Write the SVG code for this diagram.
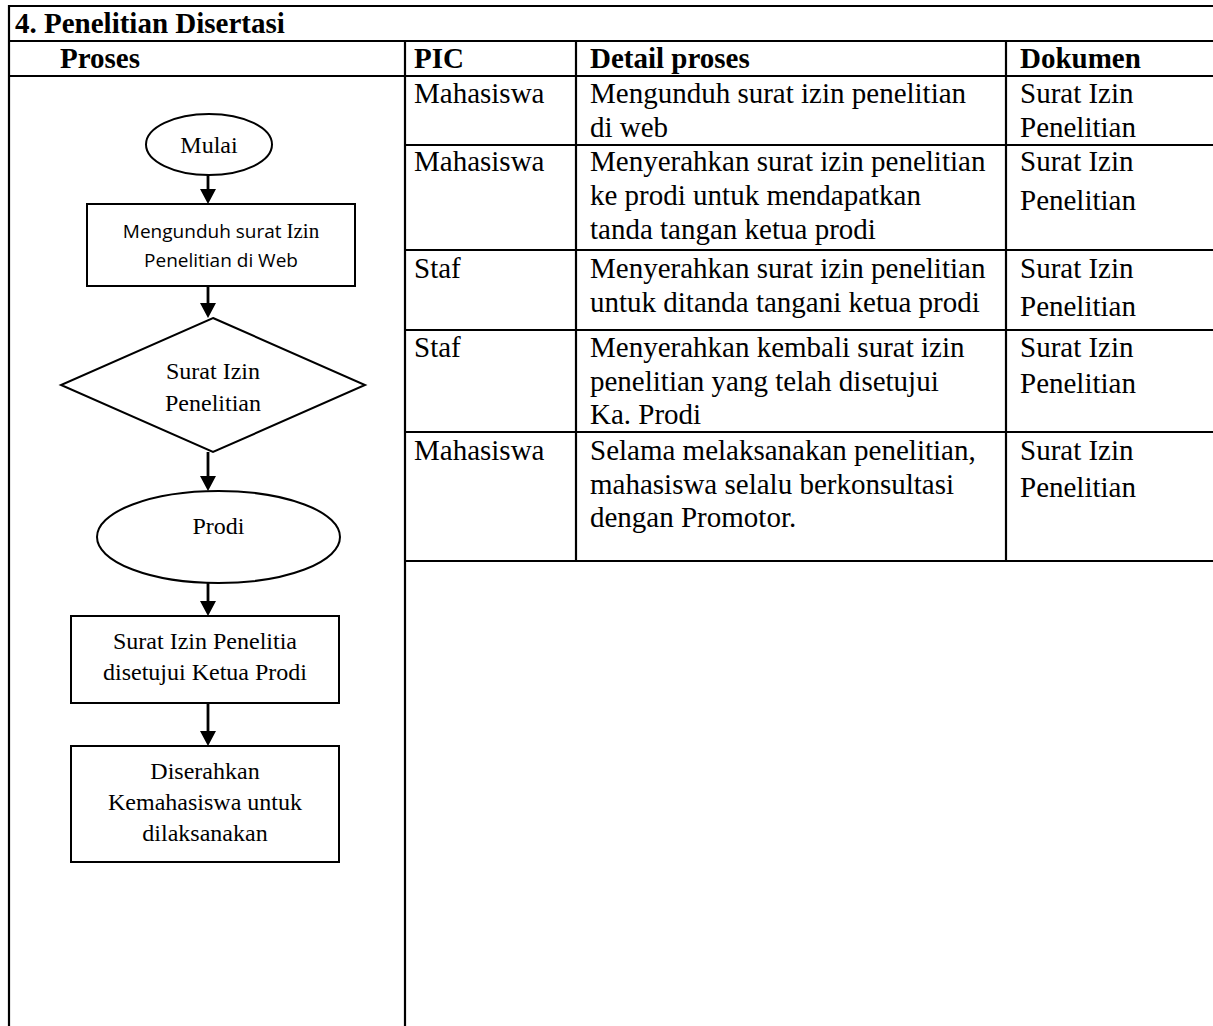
<svg xmlns="http://www.w3.org/2000/svg" width="1213" height="1026" viewBox="0 0 1213 1026">
<style>
.bg{fill:#ffffff}
.grid{stroke:#000;stroke-width:2.2;fill:none}
.t{font-family:"Liberation Serif","Times New Roman",serif;font-size:29px;fill:#000}
.b{font-weight:bold}
.shape{fill:#fff;stroke:#000;stroke-width:2}
.ft{font-family:"Liberation Serif","Times New Roman",serif;font-size:24px;fill:#000;text-anchor:middle}
.fs{font-family:"Open Sans","Liberation Sans",sans-serif;font-size:19px;fill:#000;text-anchor:middle}
.conn{stroke:#000;stroke-width:2.8;fill:none}
</style>
<defs>
<marker id="ah" markerUnits="userSpaceOnUse" markerWidth="16" markerHeight="16" refX="5" refY="8" orient="auto" viewBox="0 0 16 16">
<path d="M0,0 L15,8 L0,16 z" fill="#000"/>
</marker>
</defs>
<rect class="bg" x="0" y="0" width="1213" height="1026"/>
<g id="table">
<g class="grid">
<line x1="9" y1="6" x2="1213" y2="6"/>
<line x1="9" y1="41" x2="1213" y2="41"/>
<line x1="9" y1="76" x2="1213" y2="76"/>
<line x1="9" y1="5" x2="9" y2="1026"/>
<line x1="405" y1="41" x2="405" y2="1026"/>
<line x1="576" y1="41" x2="576" y2="561"/>
<line x1="1006" y1="41" x2="1006" y2="561"/>
<line x1="405" y1="145" x2="1213" y2="145"/>
<line x1="405" y1="250" x2="1213" y2="250"/>
<line x1="405" y1="330" x2="1213" y2="330"/>
<line x1="405" y1="432" x2="1213" y2="432"/>
<line x1="405" y1="561" x2="1213" y2="561"/>
</g>
<g>
<text class="t b" x="15" y="33">4. Penelitian Disertasi</text>
<text class="t b" x="60" y="68">Proses</text>
<text class="t b" x="414" y="68">PIC</text>
<text class="t b" x="590" y="68">Detail proses</text>
<text class="t b" x="1020" y="68">Dokumen</text>

<text class="t" x="414" y="103">Mahasiswa</text>
<text class="t" x="590" y="103">Mengunduh surat izin penelitian</text>
<text class="t" x="590" y="137">di web</text>
<text class="t" x="1020" y="103">Surat Izin</text>
<text class="t" x="1020" y="137">Penelitian</text>

<text class="t" x="414" y="171">Mahasiswa</text>
<text class="t" x="590" y="171">Menyerahkan surat izin penelitian</text>
<text class="t" x="590" y="205">ke prodi untuk mendapatkan</text>
<text class="t" x="590" y="239">tanda tangan ketua prodi</text>
<text class="t" x="1020" y="171">Surat Izin</text>
<text class="t" x="1020" y="210">Penelitian</text>

<text class="t" x="414" y="278">Staf</text>
<text class="t" x="590" y="278">Menyerahkan surat izin penelitian</text>
<text class="t" x="590" y="312">untuk ditanda tangani ketua prodi</text>
<text class="t" x="1020" y="278">Surat Izin</text>
<text class="t" x="1020" y="316">Penelitian</text>

<text class="t" x="414" y="357">Staf</text>
<text class="t" x="590" y="357">Menyerahkan kembali surat izin</text>
<text class="t" x="590" y="391">penelitian yang telah disetujui</text>
<text class="t" x="590" y="424">Ka. Prodi</text>
<text class="t" x="1020" y="357">Surat Izin</text>
<text class="t" x="1020" y="393">Penelitian</text>

<text class="t" x="414" y="460">Mahasiswa</text>
<text class="t" x="590" y="460">Selama melaksanakan penelitian,</text>
<text class="t" x="590" y="494">mahasiswa selalu berkonsultasi</text>
<text class="t" x="590" y="527">dengan Promotor.</text>
<text class="t" x="1020" y="460">Surat Izin</text>
<text class="t" x="1020" y="497">Penelitian</text>
</g>
</g>

<g id="connectors">
<line class="conn" x1="208" y1="175" x2="208" y2="194" marker-end="url(#ah)"/>
<line class="conn" x1="208" y1="286" x2="208" y2="308" marker-end="url(#ah)"/>
<line class="conn" x1="208" y1="452" x2="208" y2="481" marker-end="url(#ah)"/>
<line class="conn" x1="208" y1="583" x2="208" y2="606" marker-end="url(#ah)"/>
<line class="conn" x1="208" y1="703" x2="208" y2="736" marker-end="url(#ah)"/>
</g>

<g id="node-mulai">
<ellipse class="shape" cx="209" cy="144.5" rx="63" ry="30.5"/>
<text class="ft" x="209" y="153">Mulai</text>
</g>
<g id="node-unduh">
<rect class="shape" x="87" y="204" width="268" height="82"/>
<text class="fs" x="221" y="238">Mengunduh surat <tspan font-family="Liberation Serif, serif" font-size="21">Izin</tspan></text>
<text class="fs" x="221" y="267">Penelitian di Web</text>
</g>
<g id="node-surat">
<polygon class="shape" points="213,318 365,385 213,452 61,385"/>
<text class="ft" x="213" y="379">Surat Izin</text>
<text class="ft" x="213" y="411">Penelitian</text>
</g>
<g id="node-prodi">
<ellipse class="shape" cx="218.5" cy="537" rx="121.5" ry="46"/>
<text class="ft" x="218.5" y="534">Prodi</text>
</g>
<g id="node-disetujui">
<rect class="shape" x="71" y="616" width="268" height="87"/>
<text class="ft" x="205" y="649">Surat Izin Penelitia</text>
<text class="ft" x="205" y="680">disetujui Ketua Prodi</text>
</g>
<g id="node-diserahkan">
<rect class="shape" x="71" y="746" width="268" height="116"/>
<text class="ft" x="205" y="779">Diserahkan</text>
<text class="ft" x="205" y="810">Kemahasiswa untuk</text>
<text class="ft" x="205" y="841">dilaksanakan</text>
</g>
</svg>
